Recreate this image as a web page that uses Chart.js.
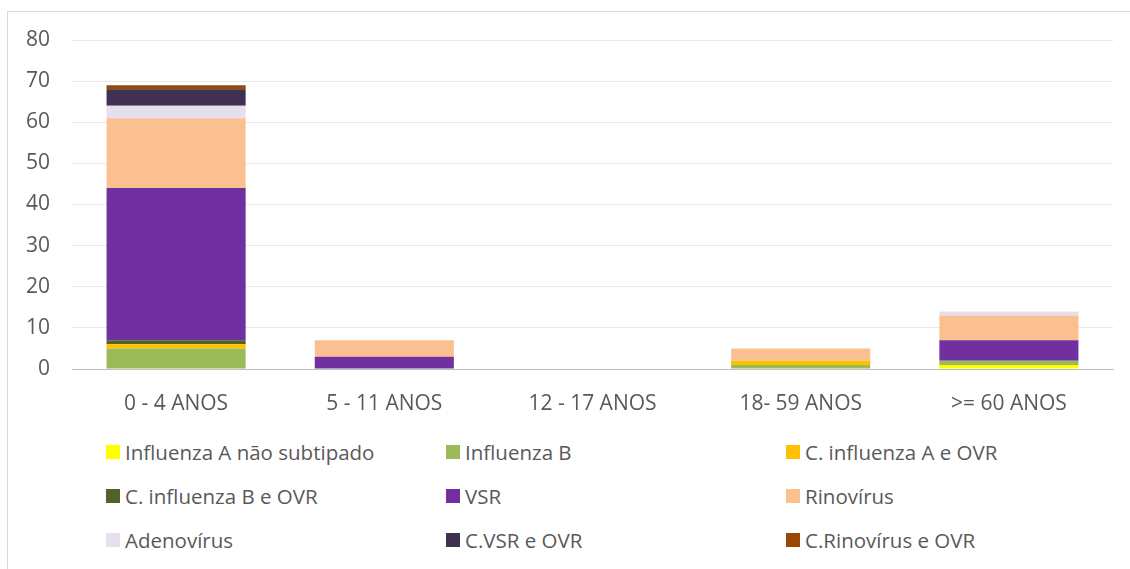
<!DOCTYPE html>
<html>
<head>
<meta charset="utf-8">
<script src="https://cdn.jsdelivr.net/npm/chart.js@4.4.0/dist/chart.umd.min.js"></script>
<style>
  body { margin: 0; background: #fff; font-family: "Open Sans", sans-serif; overflow: hidden; }
  #frame { position: absolute; left: 7px; top: 11px; width: 1200px; height: 700px; border: 1px solid #d9d9d9; box-sizing: border-box; }
  #wrap { position: absolute; left: 0; top: 0; width: 1130px; height: 420px; }
  #legend { position: absolute; left: 106px; top: 437px; display: grid; grid-template-columns: 340px 340px 340px; grid-auto-rows: 44px; }
  .item { display: flex; align-items: center; font-size: 20.5px; color: #595959; height: 30px; }
  .box { width: 14px; height: 14px; margin-right: 5px; }
</style>
</head>
<body>
<div id="frame"></div>
<div id="wrap"><canvas id="myChart" width="1130" height="420"></canvas></div>
<div id="legend"></div>
<script>
const labels = ["0 - 4 ANOS", "5 - 11 ANOS", "12 - 17 ANOS", "18- 59 ANOS", ">= 60 ANOS"];
const seriesNames = [
  "Influenza A não subtipado", "Influenza B", "C. influenza A e OVR",
  "C. influenza B e OVR", "VSR", "Rinovírus",
  "Adenovírus", "C.VSR e OVR", "C.Rinovírus e OVR"
];
const colors = ["#FFFF00", "#9BBB59", "#FFC000", "#4F6228", "#7030A0", "#FAC090", "#E6E0EC", "#403151", "#974706"];

const influenzaA = [0, 0, 0, 0, 1];
const influenzaB = [5, 0, 0, 1, 1];
const cInfluenzaA = [1, 0, 0, 1, 0];
const cInfluenzaB = [1, 0, 0, 0, 0];
const vsr = [37, 3, 0, 0, 5];
const rinovirus = [17, 4, 0, 3, 6];
const adenovirus = [3, 0, 0, 0, 1];
const cVsr = [4, 0, 0, 0, 0];
const cRinovirus = [1, 0, 0, 0, 0];

const values = [influenzaA, influenzaB, cInfluenzaA, cInfluenzaB, vsr, rinovirus, adenovirus, cVsr, cRinovirus];
const yTicks = [0, 10, 20, 30, 40, 50, 60, 70, 80];

const ctx = document.getElementById("myChart");
const datasets = [];
for (let i = 0; i < seriesNames.length; i++) {
  datasets.push({
    label: seriesNames[i],
    data: values[i],
    backgroundColor: colors[i],
    borderWidth: 0,
    categoryPercentage: 1,
    barPercentage: 0.668,
  });
}

const myChart = new Chart(ctx, {
  type: "bar",
  data: { labels: labels, datasets: datasets },
  options: {
    responsive: false,
    animation: false,
    layout: { padding: { top: 40, right: 17, left: 0, bottom: 0 } },
    plugins: { legend: { display: false }, tooltip: { enabled: false } },
    scales: {
      x: {
        stacked: true,
        grid: { display: false },
        border: { color: "#bfbfbf", width: 1 },
        ticks: { color: "#595959", font: { size: 21, family: "Open Sans" }, padding: 14 },
        afterFit: (s) => { s.height = 51; },
      },
      y: {
        stacked: true,
        min: 0,
        max: 80,
        afterBuildTicks: (s) => { s.ticks = yTicks.map((v) => ({ value: v })); },
        grid: { color: (c) => (c.tick && c.tick.value === 0 ? "#bfbfbf" : "#e8e8e8"), drawTicks: false },
        border: { display: false },
        ticks: { color: "#595959", font: { size: 21, family: "Open Sans" }, padding: 22 },
        afterFit: (s) => { s.width = 72; },
      },
    },
  },
});

const legend = document.getElementById("legend");
seriesNames.forEach((name, i) => {
  const item = document.createElement("div");
  item.className = "item";
  item.innerHTML = '<span class="box" style="background:' + colors[i] + '"></span>' + name;
  legend.appendChild(item);
});
</script>
</body>
</html>
